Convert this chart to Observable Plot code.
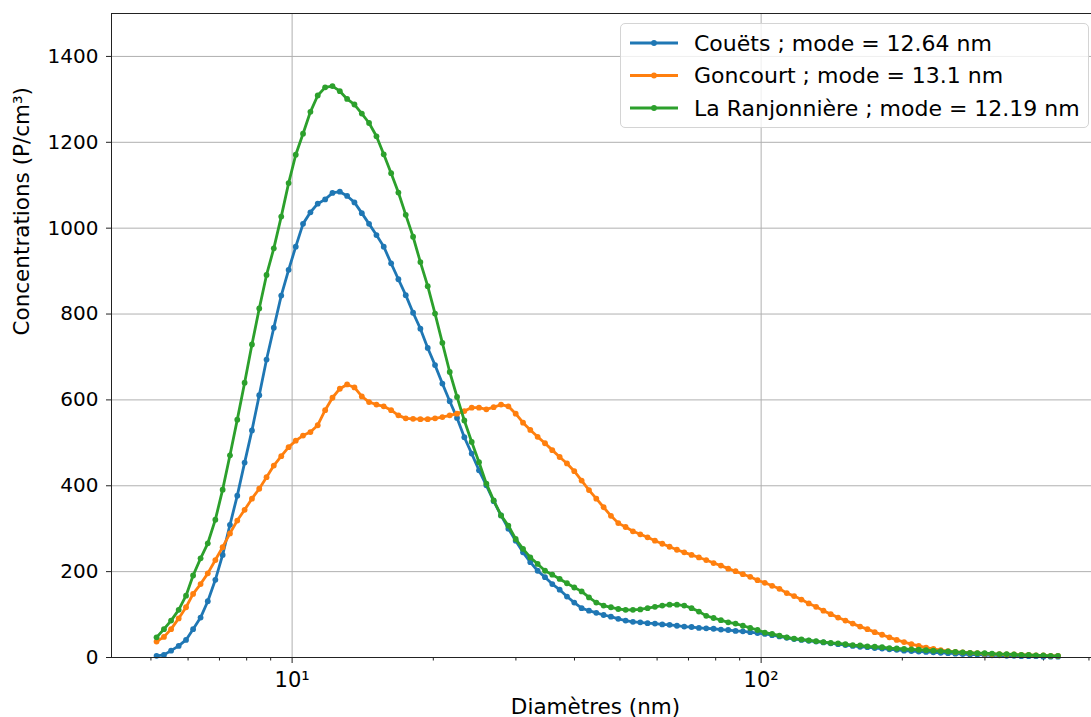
<!DOCTYPE html>
<html><head><meta charset="utf-8">
<script src="https://cdn.jsdelivr.net/npm/d3@7"></script>
<script src="https://cdn.jsdelivr.net/npm/@observablehq/plot@0.6"></script>
<style>
body{margin:0;background:#fff;font-family:"DejaVu Sans",sans-serif}
#wrap{position:relative;width:1091px;height:717px;overflow:hidden;background:#fff}
#chart svg{max-width:none !important}
#legend{position:absolute;left:620px;top:23px;width:469px;height:105px;background:rgba(255,255,255,0.8);border:1px solid #d4d4d4;border-radius:5px;box-sizing:border-box}
</style></head><body>
<div id="wrap"><div id="chart"></div><div id="legend"></div></div>
<script>
const diameters = [5.14, 5.33, 5.52, 5.73, 5.94, 6.15, 6.38, 6.61, 6.86, 7.11, 7.37, 7.64, 7.92, 8.21, 8.51, 8.82, 9.14, 9.48, 9.83,
  10.18, 10.55, 10.94, 11.34, 11.76, 12.19, 12.64, 13.10, 13.58, 14.08, 14.59, 15.13, 15.68, 16.26, 16.85, 17.47, 18.11, 18.77, 19.46,
  20.17, 20.91, 21.68, 22.47, 23.29, 24.15, 25.03, 25.95, 26.90, 27.89, 28.91, 29.97, 31.07, 32.20, 33.38, 34.61, 35.87, 37.19, 38.55,
  39.96, 41.43, 42.95, 44.52, 46.15, 47.84, 49.59, 51.41, 53.29, 55.25, 57.27, 59.37, 61.55, 63.80, 66.14, 68.56, 71.07, 73.68, 76.38,
  79.18, 82.08, 85.08, 88.20, 91.43, 94.78, 98.25,
  101.81, 105.54, 109.41, 113.42, 117.57, 121.88, 126.35, 130.98, 135.78, 140.75, 145.91, 151.26, 156.80, 162.55, 168.50, 174.68,
  181.08, 187.71, 194.59, 201.72, 209.11, 216.77, 224.71, 232.95, 241.48, 250.33, 259.50, 269.01, 278.86, 289.08, 299.67, 310.65,
  322.04, 333.83, 346.06, 358.74, 371.89, 385.51, 399.64, 414.28, 429.46];

const couets = [4, 6, 16, 27, 41, 66, 93, 131, 181, 239,
  309, 377, 454, 529, 611, 694, 768, 843, 903, 957,
  1010, 1037, 1057, 1067, 1082, 1085, 1075, 1060, 1035, 1010,
  984, 957, 918, 881, 844, 803, 766, 721, 681, 638,
  597, 558, 513, 475, 436, 401, 364, 331, 300, 272,
  245, 222, 202, 187, 171, 158, 142, 128, 115, 109,
  104, 99, 95, 90, 86, 83, 82, 80, 79, 77,
  76, 74, 72, 71, 69, 68, 67, 65, 64, 62,
  61, 59, 57, 55, 52, 49, 46, 43, 41, 39,
  37, 35, 33, 31, 29, 27, 25, 24, 22, 21,
  19, 18, 16, 15, 14, 13, 12, 11, 10, 9,
  8, 7, 7, 6, 5, 5, 4, 4, 3, 3,
  3, 2, 2, 2];

const goncourt = [37, 48, 66, 91, 117, 148, 171, 196, 227, 257,
  289, 319, 344, 370, 393, 420, 447, 469, 490, 505,
  517, 525, 541, 576, 605, 626, 636, 629, 608, 595,
  589, 585, 576, 564, 557, 556, 555, 555, 557, 560,
  564, 568, 574, 582, 582, 578, 583, 589, 585, 568,
  547, 530, 514, 499, 483, 467, 452, 434, 412, 390,
  370, 350, 330, 313, 304, 294, 287, 280, 272, 265,
  258, 251, 245, 239, 233, 227, 220, 214, 207, 201,
  194, 188, 180, 174, 167, 160, 150, 143, 135, 126,
  118, 109, 101, 93, 86, 79, 72, 66, 59, 53,
  47, 41, 36, 31, 27, 23, 20, 17, 15, 13,
  12, 11, 10, 9, 8, 8, 7, 7, 6, 6,
  5, 5, 4, 4];

const ranjonniere = [47, 66, 86, 111, 144, 191, 231, 266, 321, 391,
  471, 554, 640, 729, 813, 891, 953, 1027, 1105, 1171,
  1220, 1271, 1309, 1328, 1331, 1319, 1301, 1288, 1267, 1245,
  1214, 1172, 1128, 1083, 1031, 980, 921, 865, 801, 733,
  665, 607, 552, 502, 455, 405, 366, 331, 307, 276,
  253, 233, 218, 202, 193, 183, 173, 163, 154, 140,
  128, 121, 117, 113, 111, 111, 112, 115, 118, 121,
  123, 123, 121, 115, 107, 97, 92, 87, 82, 79,
  74, 69, 64, 58, 55, 51, 47, 44, 42, 40,
  38, 36, 34, 33, 31, 29, 28, 26, 25, 24,
  22, 21, 20, 19, 18, 17, 16, 15, 14, 13,
  12, 11, 10, 10, 9, 8, 8, 7, 6, 6,
  5, 5, 4, 4];

const seriesNames = ["Couëts ; mode = 12.64 nm", "Goncourt ; mode = 13.1 nm", "La Ranjonnière ; mode = 12.19 nm"];
const seriesColors = ["#1f77b4", "#ff7f0e", "#2ca02c"];
const yTicks = [0, 200, 400, 600, 800, 1000, 1200, 1400];
const xMajorTicks = [10, 100];
const xMajorLabels = ["10¹", "10²"];
const xMinorTicks = [5, 6, 7, 8, 9, 20, 30, 40, 50, 60, 70, 80, 90, 200, 300, 400, 500];
const xLabel = "Diamètres (nm)";
const yLabel = "Concentrations (P/cm³)";

const seriesValues = [couets, goncourt, ranjonniere];
const seriesData = seriesValues.map((vals, s) => vals.map((v, i) => ({d: diameters[i], v, s: seriesNames[s]})));

const seriesMarks = seriesData.flatMap((rows, s) => [
  Plot.line(rows, {x: "d", y: "v", stroke: seriesColors[s], strokeWidth: 2.8}),
  Plot.dot(rows, {x: "d", y: "v", fill: seriesColors[s], r: 2.9, stroke: "none"})
]);

const chart = Plot.plot({
  width: 1115, height: 717,
  marginLeft: 111, marginRight: 12, marginTop: 13, marginBottom: 60,
  style: {fontFamily: "DejaVu Sans", fontSize: "20px", color: "#000", background: "transparent", maxWidth: "none"},
  x: {type: "log", domain: [4.12, 537]},
  y: {domain: [0, 1500]},
  marks: [
    Plot.gridY(yTicks, {stroke: "#b0b0b0", strokeOpacity: 1, strokeWidth: 1}),
    Plot.gridX(xMajorTicks, {stroke: "#b0b0b0", strokeOpacity: 1, strokeWidth: 1}),
    Plot.axisY(yTicks, {tickSize: 5, tickPadding: 8, fontSize: 20, label: null, tickFormat: d => String(d), stroke: "#222"}),
    Plot.axisX(xMinorTicks, {tickSize: 3.5, tickFormat: () => "", label: null, stroke: "#222"}),
    Plot.axisX(xMajorTicks, {tickSize: 6, tickPadding: 9, fontSize: 21, label: null, stroke: "#222",
      tickFormat: d => xMajorLabels[xMajorTicks.indexOf(d)]}),
    ...seriesMarks,
    Plot.frame({stroke: "#222", strokeWidth: 1}),
    Plot.text([yLabel], {frameAnchor: "left", dx: -89, rotate: -90, fontSize: 21.5, fill: "#000"}),
    Plot.text([xLabel], {frameAnchor: "bottom", dx: -12, dy: 56, fontSize: 21.5, fill: "#000"})
  ]
});
chart.style.maxWidth = "none";
document.getElementById("chart").appendChild(chart);

const lg = d3.select("#legend").append("svg")
  .attr("width", 469).attr("height", 105)
  .style("position", "absolute").style("left", "-1px").style("top", "-1px")
  .style("font-family", "DejaVu Sans");
seriesNames.forEach((name, i) => {
  const y = 20 + i * 32.5;
  lg.append("line").attr("x1", 10).attr("x2", 58).attr("y1", y).attr("y2", y)
    .attr("stroke", seriesColors[i]).attr("stroke-width", 2.8);
  lg.append("circle").attr("cx", 34).attr("cy", y).attr("r", 2.9).attr("fill", seriesColors[i]);
  lg.append("text").attr("x", 74).attr("y", y).attr("dy", "0.36em")
    .attr("font-size", 22).attr("fill", "#000").text(name);
});
</script>
</body></html>
